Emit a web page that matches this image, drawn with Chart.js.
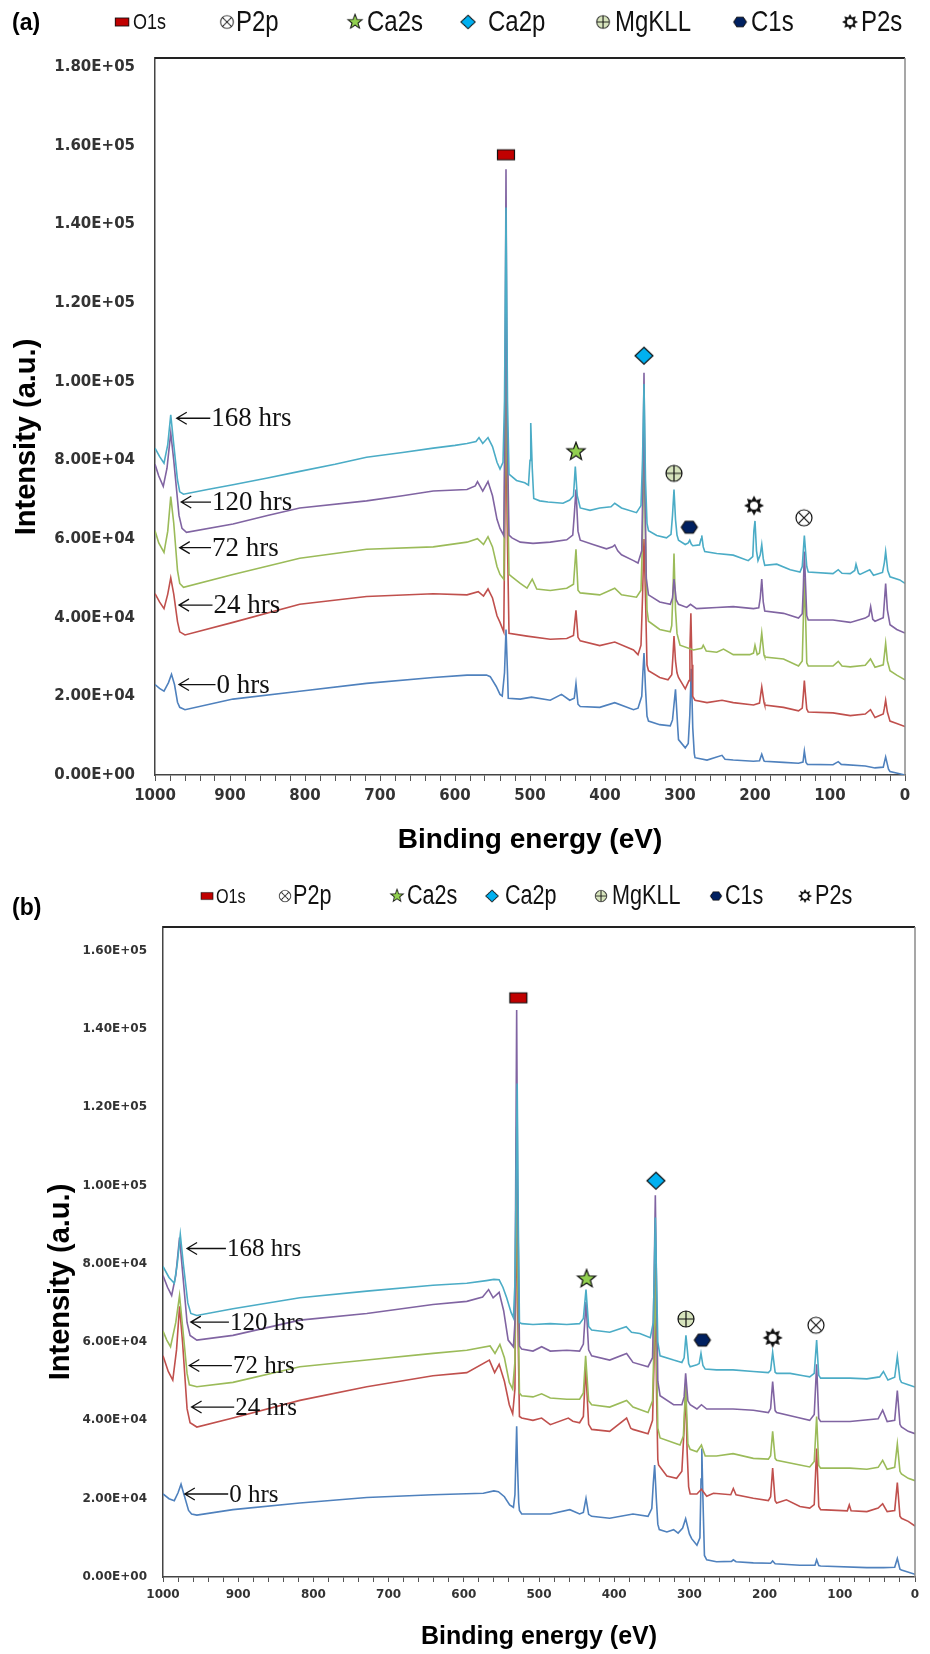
<!DOCTYPE html>
<html>
<head>
<meta charset="utf-8">
<script src="https://cdn.jsdelivr.net/npm/chart.js@4.4.1/dist/chart.umd.min.js"></script>
<style>
  body { margin: 0; background: #fff; width: 930px; height: 1654px; position: relative; overflow: hidden; }
  .panel { position: absolute; left: 0; width: 930px; }
  #wrapA { top: 0; height: 870px; }
  #wrapB { top: 870px; height: 784px; }
</style>
</head>
<body>
<div class="panel" id="wrapA"><canvas id="chartA"></canvas></div>
<div class="panel" id="wrapB"><canvas id="chartB"></canvas></div>
<script>
// series order: 168, 120, 72, 24, 0 hrs  (first = drawn on top)
const hoursNames = ['168 hrs', '120 hrs', '72 hrs', '24 hrs', '0 hrs'];
const seriesColors = ['#4BACC6', '#8064A2', '#9BBB59', '#C0504D', '#4F81BD'];
const peakNames = ['O1s', 'P2p', 'Ca2s', 'Ca2p', 'MgKLL', 'C1s', 'P2s'];
const peakKinds = ['rect', 'circx', 'star', 'diamond', 'circplus', 'hex', 'sun'];

// tick values
const xTicks = [1000, 900, 800, 700, 600, 500, 400, 300, 200, 100, 0];
const yTicksA = [0, 20000, 40000, 60000, 80000, 100000, 120000, 140000, 160000, 180000];
const yTicksB = [0, 20000, 40000, 60000, 80000, 100000, 120000, 140000, 160000];

// ---- panel (a) spectra  [binding energy eV, intensity] ----
const specA168 = [[1000,83100],[994,81000],[988,79300],[983,84000],[979,91600],[975,84000],[970,75000],[967,72000],[962,71400],[930,72600],[896,73800],[850,75500],[807,77200],[760,79000],[718,80800],[670,82000],[629,83100],[600,83800],[584,84300],[572,84800],[568,85800],[563,84300],[556,85800],[550,83500],[544,79500],[540,77800],[536,79500],[534,95000],[532,144300],[530,95000],[528,76500],[518,74900],[507,74300],[502,73700],[500,80000],[499,89500],[497,78000],[495,70300],[487,69700],[476,69400],[456,69100],[447,69900],[442,71000],[439.6,78400],[437,71000],[433,67900],[420,67300],[407,67900],[392,68200],[387,69100],[378,67900],[358,66700],[352,68500],[350,80000],[348,99400],[346,75000],[344,64000],[342,62100],[331,60900],[318,60300],[312,61200],[310,66000],[308,72600],[306,65000],[304,61000],[302,59700],[293,58600],[289,59000],[287,59700],[285,58700],[283,58300],[274,58500],[272,60000],[271,60900],[269,58000],[267,56800],[251,56300],[229,55900],[209,54500],[203,55500],[201.5,62000],[200,64600],[198,57000],[196,54500],[193,56000],[191,58600],[189,55000],[187,53300],[171,53600],[153,52200],[140,51600],[137,53000],[134.2,60900],[131,53000],[129,51600],[96,51200],[89,52200],[84,51300],[73,51200],[67,52000],[65.3,53600],[62,51300],[60,51000],[47,52200],[42,50800],[30,51500],[27.5,54000],[25.8,56800],[23,52000],[20,50400],[7,49600],[0,48700]];
const specA120 = [[1000,79000],[995,76000],[989,73400],[984,78000],[979,87000],[975,80000],[968,66000],[964,62700],[958,61700],[896,63800],[850,66000],[807,67900],[718,69700],[670,71000],[629,72200],[584,72600],[573,73500],[570,74600],[563,72200],[556,74600],[550,71000],[544,65000],[540,62700],[535,60900],[533.5,90000],[532,154000],[530.5,90000],[528,61000],[524,60300],[513,59200],[496,58900],[473,59200],[451,59800],[443,61000],[441,66000],[438.7,72600],[436,62000],[433,59700],[416,58600],[398,57500],[390,58000],[387,58500],[383,57000],[378,56000],[362,54500],[356,53900],[351,57000],[349.5,75000],[348,102300],[346.5,70000],[345,50000],[342,45800],[327,44000],[313,43400],[310,45000],[308,49800],[305,44500],[302,43400],[291,42600],[286,43400],[278,42300],[251,42600],[229,42800],[202,42300],[195,42500],[193,45000],[191,49800],[189,44000],[187,41700],[162,41100],[142,39900],[137,41000],[135.5,48000],[134.2,56800],[132.5,48000],[131,40500],[129,39400],[96,39400],[73,38800],[53,39900],[48,40500],[45.8,42800],[43,39600],[40,39100],[29,40000],[27.5,44000],[25.8,48700],[23.5,42000],[20,38200],[11,37000],[0,36100]];
const specA72 = [[1000,62100],[995,59000],[988,56600],[983,62000],[979,70800],[975,64000],[970,52000],[967,48700],[962,47700],[896,51000],[807,55100],[718,57400],[629,58000],[584,59200],[570,60100],[562,58600],[556,60600],[550,58000],[544,53000],[540,51000],[535,49800],[533.5,80000],[532,120000],[530.5,80000],[528,51000],[524,50400],[513,48700],[504,47500],[497,49800],[491,47300],[473,46900],[451,47500],[442,48500],[438.7,57400],[436,47000],[433,46300],[407,45800],[387,47500],[378,45800],[358,45200],[352,47000],[350,60000],[348,85000],[346,60000],[344,42000],[342,39100],[327,37000],[313,36400],[311,38000],[309.5,46000],[308,56300],[306,42000],[304,36000],[300,33000],[282,31800],[271,32200],[269,33000],[265,31500],[251,31200],[242,32000],[229,30600],[207,30600],[202,31000],[200,33000],[197,30600],[194,31000],[191,36100],[188,30500],[187,30000],[162,29500],[142,27700],[137,29000],[135.5,40000],[134.2,50000],[132.5,40000],[131,28500],[129,27700],[96,27700],[89,28900],[84,27700],[73,27500],[53,27900],[46,29500],[40,27400],[29,28000],[27.5,30500],[25.8,33500],[23.5,29000],[20,26500],[11,25400],[0,24200]];
const specA24 = [[1000,46100],[994,44000],[988,42300],[983,46000],[979,50100],[975,46000],[970,39000],[967,36400],[960,35600],[896,38800],[807,43400],[718,45400],[629,46100],[584,45800],[569,46600],[562,45500],[556,47300],[550,45000],[544,40500],[540,38800],[535,36400],[533.5,65000],[532,95000],[530.5,65000],[528,36000],[504,35300],[473,34500],[451,34700],[442,35500],[438.7,41900],[436,35000],[433,34100],[407,32900],[387,33800],[362,31800],[356,30600],[352,33000],[350,45000],[348,60000],[346,45000],[344,28000],[342,26500],[327,24800],[316,24200],[311,25500],[309.5,30000],[308,35300],[306,29000],[304,26000],[302,24800],[293,21900],[288,24000],[286.8,32000],[285.5,41100],[284,28000],[283,20000],[280,19000],[264,18400],[244,19000],[229,18400],[202,17800],[194,18300],[191,22400],[188,18500],[187,17800],[162,17200],[142,16300],[137,17000],[135.5,20500],[134.2,24000],[132.5,20000],[131,16800],[129,16000],[96,15800],[73,15100],[53,15500],[46,16600],[40,14600],[29,15500],[27.5,17000],[25.8,19000],[23.5,16000],[20,13700],[11,13100],[0,12300]];
const specA0 = [[1000,23000],[994,22000],[988,21300],[982,23500],[978,25600],[974,23000],[970,18500],[967,17200],[960,16600],[896,19300],[807,21300],[718,23300],[629,24800],[584,25400],[558,25400],[553,25000],[545,22500],[540,20500],[537,20100],[534,26000],[532,37000],[530,26000],[529,19500],[513,19300],[498,19800],[473,19000],[458,20500],[447,19000],[441,19500],[438.7,23200],[436,18000],[433,17400],[407,17200],[387,18400],[362,16600],[356,17000],[351,20000],[349.5,26000],[348,31000],[346,22000],[344,15000],[342,13700],[327,12800],[313,12500],[310,14000],[306,21800],[303,12000],[302,9000],[293,6900],[289,8000],[287,15000],[285,27000],[283,12000],[281,5500],[280,4400],[264,3800],[244,5000],[240,4000],[229,3800],[202,3500],[194,3600],[191,5300],[188,3600],[187,3500],[162,3200],[142,3000],[136,3300],[134.2,6100],[132,3200],[130,2700],[96,2600],[89,3400],[85,2700],[53,2300],[40,1800],[29,2000],[25.8,4600],[22,1500],[20,900],[7,300],[0,0]];

// ---- panel (b) spectra ----
const specB168 = [[1000,79300],[992,76500],[985,75000],[981,80000],[977,87500],[973,80000],[967,70000],[963,67300],[955,66800],[907,68500],[818,71300],[729,73000],[641,74500],[596,75000],[570,75700],[560,76000],[553,75900],[548,74000],[543,71300],[537,67500],[534,66200],[532,75000],[530.5,100000],[529,126000],[527.5,90000],[526,65000],[523,64700],[508,64500],[485,64700],[463,64500],[446,64700],[441,66000],[437.5,73400],[434,64000],[430,63100],[406,62500],[384,63900],[377,62500],[366,62200],[352,61100],[348,65000],[345.3,91800],[342,60000],[339,56500],[321,55400],[310,54800],[307,56000],[304.6,61700],[301,54500],[299,53700],[290,54200],[287,54500],[284.6,57100],[282,54000],[279,53100],[264,52900],[242,52900],[215,52500],[195,52200],[192,52800],[189.3,57400],[186,52300],[184,52000],[166,52000],[148.5,51400],[140,51100],[134,52000],[130.8,60500],[128,51500],[125.5,50800],[86.5,50800],[64,50600],[47,51100],[42,52500],[36,50300],[27,51000],[23.5,56300],[20,50500],[18,49700],[9,49100],[0,48500]];
const specB120 = [[1000,77000],[994,74000],[988.5,71900],[983,77000],[978,86700],[974,78000],[968,65000],[964,61700],[955,60500],[907,61700],[818,65600],[729,67300],[641,69600],[596,70400],[575,71500],[567,73400],[561,71300],[553,72700],[547,68000],[541,60500],[534,58800],[532,65000],[531,100000],[529.7,144800],[528.5,100000],[526,59000],[523,58200],[508,57700],[496.5,58800],[485,57700],[463,57900],[446,57700],[441,59500],[437.5,70200],[434,58000],[430,56500],[406,55400],[383.5,57100],[375,54800],[355,53700],[349,56000],[347,75000],[345.3,97500],[343.5,70000],[342,50000],[339,46300],[321,44000],[310,44000],[307,46000],[305,52000],[302,45000],[299,44000],[290,42900],[284,44000],[277,42900],[242,42900],[215,42600],[195,42000],[192,43000],[189.3,49900],[186,42500],[184,42000],[153,40600],[140,40000],[134,41500],[130.8,54300],[128,40500],[125.5,39700],[86.5,39700],[49,40400],[43,42600],[37,39700],[27,40000],[23.5,47600],[20,39000],[18,38300],[9,37200],[0,36600]];
const specB72 = [[1000,62800],[995,60500],[990,58800],[983,65000],[978,71900],[974,64000],[968,52000],[965,49100],[955,48600],[907,49700],[818,53700],[729,55400],[641,57100],[596,57900],[565,59000],[558.5,57100],[552,59400],[546,56000],[539.5,49700],[535,48000],[532,55000],[531,85000],[529.7,115000],[528.5,80000],[526,47000],[523,46300],[508,46000],[496.5,46800],[485,45700],[463,45400],[446,45400],[441,47000],[438,56500],[434,45000],[430,44000],[406,43400],[383.5,45100],[375,43400],[355,42000],[349,45000],[347,60000],[345.3,80000],[343.5,55000],[342,38000],[339,35500],[321,34300],[312.5,33700],[308,36000],[305,49100],[302,34000],[299,32600],[290,32000],[284,33700],[279,30900],[264,30900],[242,31500],[215,30300],[195,30100],[192,31000],[189.3,37200],[186,30300],[184,29800],[153,28600],[140,28100],[134,29500],[130.8,41000],[128,28500],[125.5,27800],[86.5,27800],[64,27500],[49,28000],[43,29800],[37,27500],[27,28000],[23.5,34000],[20,27000],[18,26300],[9,25200],[0,24600]];
const specB24 = [[1000,56500],[993,52500],[987,50300],[982,58000],[978,69100],[974,60000],[968,43000],[964,39400],[955,38300],[907,40600],[818,45100],[729,48600],[641,51400],[596,52200],[566,55400],[559,52200],[553,54300],[546,50000],[539.5,44000],[535,41700],[532,48000],[531,75000],[529.7,100000],[528.5,70000],[526,41000],[523,40600],[508,40000],[496.5,40600],[485,38900],[461,40600],[455,39800],[446,39400],[441,41000],[438,53700],[434,39000],[430,37700],[406,37200],[383.5,40600],[378,38000],[375,37700],[355,36600],[349,40000],[347,55000],[345.3,75000],[343.5,45000],[342,30000],[341,28600],[330,25800],[317,25200],[310,27000],[307,38000],[305,48000],[303,32000],[301,23000],[299,21200],[290,21200],[284,22400],[277,20600],[268,21400],[245,21000],[241.6,22600],[238,21000],[215,20100],[195,19500],[192,20500],[189.3,27800],[186,19500],[184,18900],[171,19700],[153,18000],[140,17600],[134,18500],[130.8,32800],[128,18000],[125.5,17200],[90,16900],[87.4,18400],[85,16900],[64,16700],[49,17600],[43,18700],[37,16700],[27,17000],[23.5,24100],[20,15500],[18,15000],[9,14200],[0,13000]];
const specB0 = [[1000,21200],[992,20000],[985,19500],[980,21500],[976,23700],[972,21000],[966,17000],[962,16100],[955,15800],[907,17200],[818,18900],[729,20300],[641,21000],[574,21400],[560,22000],[554,21800],[546,20500],[539,18400],[534,17800],[532,21000],[530.8,30000],[529.7,38500],[528.5,28000],[527,19000],[526,17000],[523,16100],[508,16100],[485,16100],[459,17200],[446,16100],[441,16500],[437.5,20100],[434,16000],[430,15500],[406,15000],[375,16100],[355,15500],[350,17500],[348,24000],[346.2,28600],[344,20000],[342,13500],[340,12100],[330,11500],[321,12100],[315,11200],[309,12500],[305,14900],[300,11000],[297,9800],[290,8100],[286,10000],[284.5,25000],[283.5,32800],[282,20000],[280,5500],[277,4400],[264,3900],[244,4000],[241.6,4400],[238,3900],[215,3600],[192,3500],[189.3,4100],[186,3400],[153,3000],[133,3000],[130.8,4400],[128,2900],[125.5,2800],[64,2400],[42,2400],[27,2500],[23.5,4700],[20,2000],[18,1800],[0,700]];

// peak markers, same order as peakNames
const markersA = [[532,157700],[134.7,65400],[438.7,82200],[348,106600],[308,76700],[287.6,63000],[201.3,68500]];
const markersB = [[527.5,147900],[131.7,64300],[436.7,76100],[344.5,101200],[304.6,65900],[282.8,60500],[189.3,61100]];

// "<- xx hrs" notes: arrow tip [eV, intensity], text start eV
const hoursTipA = [[971,90700],[965,69400],[967,57800],[968,43200],[968,23000]];
const hoursTextA = [925, 924, 924, 922, 918];
const hoursTipB = [[968,83900],[963,65100],[965,54000],[962,43400],[971,21200]];
const hoursTextB = [915, 911, 907, 904, 912];

const yMaxA = 182300;
const yMaxB = 166000;

function fmtSci(v) {
  if (v === 0) return '0.00E+00';
  const e = Math.floor(Math.log10(v) + 1e-9);
  return (v / Math.pow(10, e)).toFixed(2) + 'E+' + String(e).padStart(2, '0');
}

function makeMarker(kind) {
  const c = document.createElement('canvas');
  c.width = 24; c.height = 22;
  const g = c.getContext('2d');
  g.translate(12, 11);
  g.lineWidth = 1.2;
  g.strokeStyle = '#111';
  g.beginPath();
  if (kind === 'rect') {
    g.fillStyle = '#C00000';
    g.rect(-8.5, -5, 17, 10);
    g.fill(); g.stroke();
  } else if (kind === 'diamond') {
    g.fillStyle = '#00B0F0';
    g.moveTo(0, -8.5); g.lineTo(9, 0); g.lineTo(0, 8.5); g.lineTo(-9, 0); g.closePath();
    g.fill(); g.stroke();
  } else if (kind === 'star') {
    g.fillStyle = '#92D050';
    for (let i = 0; i < 10; i++) {
      const r = i % 2 ? 4 : 9.5, a = -Math.PI / 2 + i * Math.PI / 5;
      g.lineTo(r * Math.cos(a), r * Math.sin(a));
    }
    g.closePath(); g.fill(); g.stroke();
  } else if (kind === 'circplus') {
    g.fillStyle = '#D7E4BD';
    g.arc(0, 0, 8, 0, Math.PI * 2); g.fill(); g.stroke();
    g.beginPath(); g.moveTo(-8, 0); g.lineTo(8, 0); g.moveTo(0, -8); g.lineTo(0, 8); g.stroke();
  } else if (kind === 'hex') {
    g.fillStyle = '#002060';
    g.moveTo(-8, 0); g.lineTo(-4, -6); g.lineTo(4, -6); g.lineTo(8, 0); g.lineTo(4, 6); g.lineTo(-4, 6); g.closePath();
    g.fill(); g.stroke();
  } else if (kind === 'sun') {
    g.fillStyle = '#111';
    for (let i = 0; i < 16; i++) {
      const r = i % 2 ? 6 : 10, a = i * Math.PI / 8;
      g.lineTo(r * Math.cos(a), r * Math.sin(a));
    }
    g.closePath(); g.fill();
    g.beginPath(); g.fillStyle = '#fff'; g.arc(0, 0, 4, 0, Math.PI * 2); g.fill();
  } else if (kind === 'circx') {
    g.fillStyle = '#fff';
    g.arc(0, 0, 8, 0, Math.PI * 2); g.fill(); g.stroke();
    g.beginPath(); g.moveTo(-5.6, -5.6); g.lineTo(5.6, 5.6); g.moveTo(5.6, -5.6); g.lineTo(-5.6, 5.6); g.stroke();
  }
  return c;
}
const markerImgs = peakKinds.map(makeMarker);

function decor(cfg) {
  return {
    id: 'decor',
    afterDatasetsDraw(chart) {
      const { ctx, chartArea: a, scales: { x, y } } = chart;
      ctx.save();
      ctx.strokeStyle = '#222'; ctx.lineWidth = 2;
      ctx.beginPath(); ctx.moveTo(a.left, a.top); ctx.lineTo(a.right, a.top); ctx.stroke();
      ctx.strokeStyle = '#8a8a8a'; ctx.lineWidth = 1.5;
      ctx.beginPath(); ctx.moveTo(a.right, a.top); ctx.lineTo(a.right, a.bottom); ctx.stroke();

      ctx.fillStyle = '#111'; ctx.strokeStyle = '#111'; ctx.lineWidth = 1.3;
      ctx.font = cfg.hrsFont; ctx.textBaseline = 'middle'; ctx.textAlign = 'left';
      hoursNames.forEach((t, i) => {
        const tx = x.getPixelForValue(cfg.tips[i][0]), ty = y.getPixelForValue(cfg.tips[i][1]);
        const sx = x.getPixelForValue(cfg.textAt[i]);
        ctx.beginPath();
        ctx.moveTo(tx, ty); ctx.lineTo(sx - 1, ty);
        ctx.moveTo(tx + 10, ty - 6); ctx.lineTo(tx, ty); ctx.lineTo(tx + 10, ty + 6);
        ctx.stroke();
        ctx.fillText(t, sx, ty + 1);
      });
      ctx.restore();
    },
    afterDraw(chart) {
      const ctx = chart.ctx, o = cfg.offY;
      ctx.save();
      ctx.fillStyle = '#000';
      ctx.textBaseline = 'middle';
      // panel letter
      ctx.textAlign = 'left';
      ctx.font = 'bold ' + cfg.letterSize + 'px "Liberation Sans", Arial, sans-serif';
      ctx.fillText(cfg.letter, 12, cfg.letterY - o);
      // legend
      peakNames.forEach((n, i) => {
        const it = cfg.legend[i];
        const img = markerImgs[i], s = cfg.legendMarkScale;
        ctx.drawImage(img, it[0] - img.width * s / 2, cfg.legendY - o - img.height * s / 2, img.width * s, img.height * s);
        ctx.save();
        ctx.translate(it[1], cfg.legendY - o);
        ctx.scale(0.8, 1);
        ctx.fillStyle = '#111';
        const sz = n === 'O1s' ? cfg.legendSize * 0.75 : cfg.legendSize;
        ctx.font = sz + 'px "Liberation Sans", Arial, sans-serif';
        ctx.fillText(n, 0, 1);
        ctx.restore();
      });
      // axis titles
      ctx.fillStyle = '#000';
      ctx.textAlign = 'center';
      ctx.font = 'bold ' + cfg.xTitle[2] + 'px "Liberation Sans", Arial, sans-serif';
      ctx.fillText('Binding energy (eV)', cfg.xTitle[0], cfg.xTitle[1] - o);
      ctx.save();
      ctx.translate(cfg.yTitle[0], cfg.yTitle[1] - o);
      ctx.rotate(-Math.PI / 2);
      ctx.font = 'bold ' + cfg.yTitle[2] + 'px "Liberation Sans", Arial, sans-serif';
      ctx.fillText('Intensity (a.u.)', 0, 0);
      ctx.restore();
      ctx.restore();
    }
  };
}

function buildChart(id, cfg) {
  const datasets = [];
  cfg.markers.forEach((m, i) => datasets.push({
    label: peakNames[i], data: [{ x: m[0], y: m[1] }],
    pointStyle: markerImgs[i], pointRadius: 8, showLine: false
  }));
  cfg.series.forEach((s, i) => datasets.push({
    label: hoursNames[i], data: s.map(p => ({ x: p[0], y: p[1] })),
    borderColor: seriesColors[i], borderWidth: 1.6, pointRadius: 0,
    showLine: true, tension: 0, fill: false
  }));
  const minorX = [];
  for (let v = 0; v <= 1000; v += 20) minorX.push(v);
  return new Chart(document.getElementById(id), {
    type: 'scatter',
    data: { datasets },
    options: {
      responsive: true, maintainAspectRatio: false, animation: false,
      devicePixelRatio: 1, events: [],
      layout: { padding: cfg.pad },
      plugins: { legend: { display: false }, tooltip: { enabled: false } },
      scales: {
        x: {
          type: 'linear', min: 0, max: 1000, reverse: true,
          afterFit: s => { s.height = cfg.xH; },
          afterBuildTicks: s => { s.ticks = minorX.map(v => ({ value: v })); },
          grid: { drawOnChartArea: false, drawTicks: true, tickLength: cfg.tickLen, color: '#555' },
          border: { color: '#444', width: 1.5 },
          ticks: {
            autoSkip: false, maxRotation: 0, padding: cfg.xPad,
            color: '#333', font: { family: '"DejaVu Sans", sans-serif', size: cfg.tickSize, weight: 'bold' },
            callback: v => (xTicks.includes(v) ? String(v) : '')
          }
        },
        y: {
          type: 'linear', min: 0, max: cfg.yMax,
          afterFit: s => { s.width = cfg.yW; },
          afterBuildTicks: s => { s.ticks = cfg.yTicks.map(v => ({ value: v })); },
          grid: { display: false, drawTicks: false },
          border: { color: '#444', width: 1.5 },
          ticks: {
            autoSkip: false, padding: cfg.yPad,
            color: '#333', font: { family: '"DejaVu Sans", sans-serif', size: cfg.tickSize, weight: 'bold' },
            callback: v => fmtSci(v)
          }
        }
      }
    },
    plugins: [decor(cfg)]
  });
}

buildChart('chartA', {
  series: [specA168, specA120, specA72, specA24, specA0],
  markers: markersA, tips: hoursTipA, textAt: hoursTextA,
  yMax: yMaxA, yTicks: yTicksA,
  pad: { left: 10, right: 25, top: 58, bottom: 0 }, yW: 145, xH: 95,
  tickLen: 6, xPad: 6, yPad: 20, tickSize: 15,
  hrsFont: '27px "Liberation Serif", "Times New Roman", serif',
  offY: 0, letter: '(a)', letterY: 24, letterSize: 23,
  legendY: 22, legendSize: 30, legendMarkScale: 0.8,
  legend: [[122,133],[227,236],[355,367],[468,488],[603,615],[740,751],[850,861]],
  xTitle: [530, 840, 28], yTitle: [27, 437, 29]
});

buildChart('chartB', {
  series: [specB168, specB120, specB72, specB24, specB0],
  markers: markersB, tips: hoursTipB, textAt: hoursTextB,
  yMax: yMaxB, yTicks: yTicksB,
  pad: { left: 40, right: 15, top: 57, bottom: 0 }, yW: 123, xH: 77,
  tickLen: 5, xPad: 6, yPad: 16, tickSize: 12,
  hrsFont: '25px "Liberation Serif", "Times New Roman", serif',
  offY: 870, letter: '(b)', letterY: 909, letterSize: 23,
  legendY: 896, legendSize: 27, legendMarkScale: 0.7,
  legend: [[207,216],[285,293],[397,407],[492,505],[601,612],[716,725],[805,815]],
  xTitle: [539, 1637, 25], yTitle: [61, 1282, 29]
});
</script>
</body>
</html>
